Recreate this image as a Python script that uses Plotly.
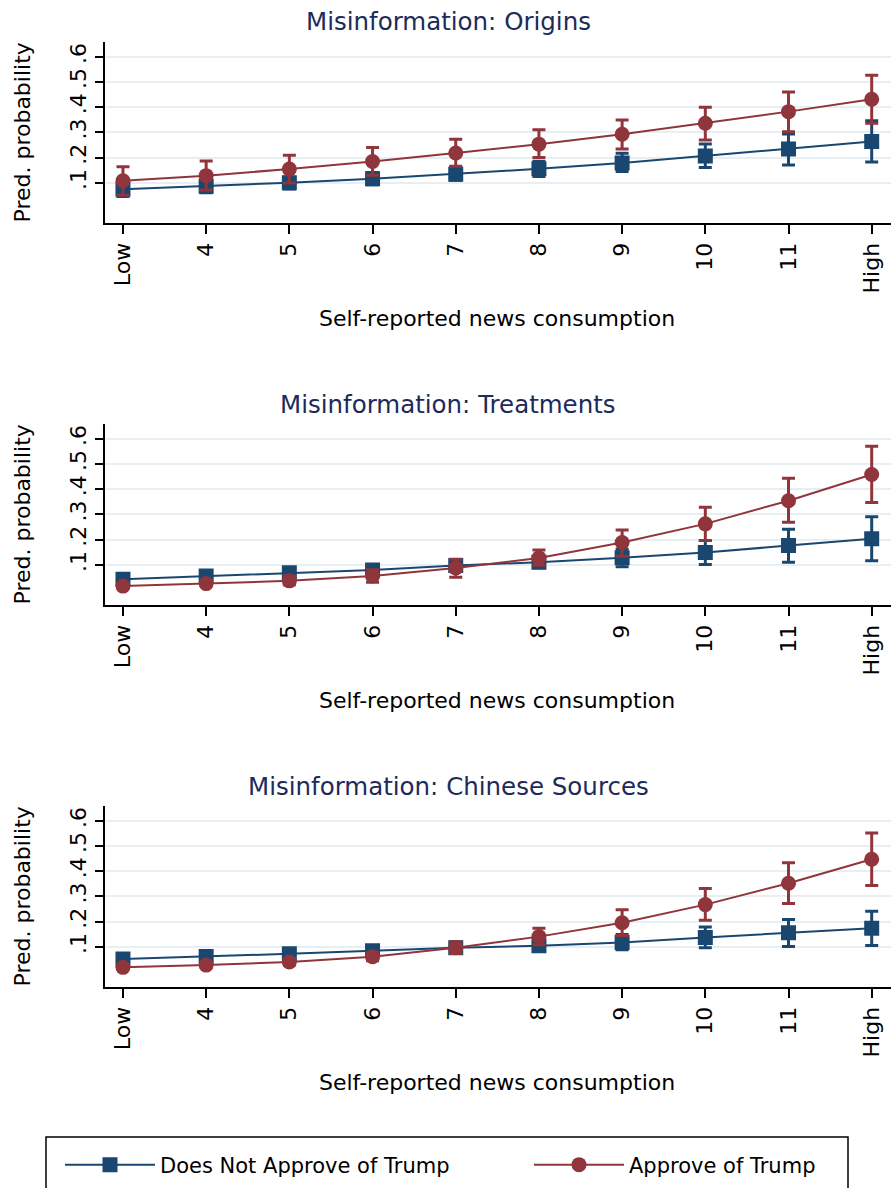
import plotly.graph_objects as go

# ---------------- data ----------------
levels = [3, 4, 5, 6, 7, 8, 9, 10, 11, 12]
level_labels = ["Low", "4", "5", "6", "7", "8", "9", "10", "11", "High"]
ytick_vals = [0.1, 0.2, 0.3, 0.4, 0.5, 0.6]
ytick_text = [".1", ".2", ".3", ".4", ".5", ".6"]

panel_titles = ["Misinformation: Origins", "Misinformation: Treatments",
                "Misinformation: Chinese Sources"]
series_names = ["Does Not Approve of Trump", "Approve of Trump"]

# Origins
orig_no = [0.074, 0.086, 0.100, 0.116, 0.134, 0.155, 0.178, 0.206, 0.234, 0.263]
orig_no_lo = [0.045, 0.060, 0.075, 0.092, 0.110, 0.125, 0.144, 0.160, 0.170, 0.182]
orig_no_hi = [0.110, 0.108, 0.122, 0.140, 0.160, 0.185, 0.217, 0.254, 0.293, 0.346]
orig_yes = [0.108, 0.128, 0.154, 0.184, 0.218, 0.253, 0.292, 0.336, 0.382, 0.431]
orig_yes_lo = [0.050, 0.071, 0.099, 0.130, 0.165, 0.200, 0.234, 0.269, 0.302, 0.336]
orig_yes_hi = [0.163, 0.186, 0.209, 0.240, 0.272, 0.310, 0.349, 0.399, 0.460, 0.526]

# Treatments
treat_no = [0.042, 0.055, 0.068, 0.079, 0.097, 0.110, 0.128, 0.148, 0.176, 0.203]
treat_no_lo = [0.030, 0.042, 0.055, 0.064, 0.078, 0.088, 0.092, 0.101, 0.110, 0.116]
treat_no_hi = [0.055, 0.067, 0.080, 0.094, 0.115, 0.132, 0.161, 0.196, 0.241, 0.290]
treat_yes = [0.015, 0.025, 0.036, 0.055, 0.087, 0.127, 0.188, 0.262, 0.354, 0.458]
treat_yes_lo = [0.008, 0.015, 0.020, 0.030, 0.050, 0.098, 0.134, 0.196, 0.268, 0.347]
treat_yes_hi = [0.023, 0.035, 0.055, 0.080, 0.122, 0.158, 0.238, 0.328, 0.443, 0.570]

# Chinese sources
chin_no = [0.051, 0.061, 0.072, 0.084, 0.096, 0.104, 0.117, 0.137, 0.155, 0.173]
chin_no_lo = [0.040, 0.050, 0.060, 0.070, 0.080, 0.085, 0.088, 0.096, 0.101, 0.105]
chin_no_hi = [0.062, 0.072, 0.084, 0.098, 0.112, 0.123, 0.148, 0.178, 0.208, 0.241]
chin_yes = [0.018, 0.027, 0.039, 0.060, 0.096, 0.140, 0.195, 0.267, 0.352, 0.447]
chin_yes_lo = [0.010, 0.017, 0.027, 0.044, 0.073, 0.108, 0.144, 0.205, 0.271, 0.343]
chin_yes_hi = [0.026, 0.037, 0.052, 0.077, 0.120, 0.173, 0.247, 0.331, 0.433, 0.551]

panels = [
    (orig_no, orig_no_lo, orig_no_hi, orig_yes, orig_yes_lo, orig_yes_hi),
    (treat_no, treat_no_lo, treat_no_hi, treat_yes, treat_yes_lo, treat_yes_hi),
    (chin_no, chin_no_lo, chin_no_hi, chin_yes, chin_yes_lo, chin_yes_hi),
]

# ---------------- style ----------------
W, H = 891, 1188
FONT = "DejaVu Sans"
BLUE = "#1a476f"
RED = "#90353b"
TITLE_COLOR = "#1c2b5a"
GRID = "#e8eff2"

plot_left = 105
panel_top = [41.7, 423.7, 805.7]
panel_h = 181.6
panel_step = 382


def py(px):
    return 1 - px / H


def pxx(px):
    return px / W


fig = go.Figure()

for i, (no, no_lo, no_hi, yes, yes_lo, yes_hi) in enumerate(panels):
    xa = "x" if i == 0 else f"x{i+1}"
    ya = "y" if i == 0 else f"y{i+1}"
    for k, (name, est, lo, hi, color, sym) in enumerate([
        (series_names[0], no, no_lo, no_hi, BLUE, "square"),
        (series_names[1], yes, yes_lo, yes_hi, RED, "circle"),
    ]):
        fig.add_trace(go.Scatter(
            x=levels, y=est, xaxis=xa, yaxis=ya, name=name,
            mode="lines+markers",
            line=dict(color=color, width=2),
            marker=dict(symbol=sym, size=15, color=color),
            error_y=dict(type="data", symmetric=False,
                         array=[h - e for h, e in zip(hi, est)],
                         arrayminus=[e - l for e, l in zip(est, lo)],
                         color=color, thickness=3, width=6.5),
            showlegend=(i == 0),
            legend="legend" if k == 0 else "legend2",
        ))

legend_common = dict(
    orientation="h", xanchor="left", y=py(1165), yanchor="middle",
    font=dict(family=FONT, size=21, color="black"),
    itemwidth=90, bgcolor="rgba(0,0,0,0)", borderwidth=0,
)

layout = dict(
    width=W, height=H,
    margin=dict(l=0, r=0, t=0, b=0),
    paper_bgcolor="white", plot_bgcolor="white",
    font=dict(family=FONT, size=22, color="black"),
    showlegend=True,
    legend=dict(x=pxx(60), **legend_common),
    legend2=dict(x=pxx(529), **legend_common),
    annotations=[],
    shapes=[],
)

for i in range(3):
    top = panel_top[i]
    bottom = top + panel_h
    xk = "xaxis" if i == 0 else f"xaxis{i+1}"
    yk = "yaxis" if i == 0 else f"yaxis{i+1}"
    ya = "y" if i == 0 else f"y{i+1}"
    xa = "x" if i == 0 else f"x{i+1}"
    layout[xk] = dict(
        domain=[pxx(plot_left), 1], anchor=ya, range=[2.784, 12.232],
        tickmode="array", tickvals=levels, ticktext=level_labels,
        tickangle=-90, ticks="outside", ticklen=9, tickwidth=1.5,
        tickcolor="black", showline=True, linecolor="black", linewidth=1.5,
        showgrid=False, zeroline=False, automargin=False,
        tickfont=dict(family=FONT, size=22, color="black"),
    )
    layout[yk] = dict(
        domain=[py(bottom), py(top)], anchor=xa, range=[-0.0611, 0.6595],
        tickmode="array", tickvals=ytick_vals, ticktext=ytick_text,
        tickangle=-90, ticks="outside", ticklen=8, tickwidth=1.5,
        tickcolor="black", showline=True, linecolor="black", linewidth=1.5,
        showgrid=True, gridcolor=GRID, gridwidth=2, zeroline=False,
        automargin=False,
        tickfont=dict(family=FONT, size=22, color="black"),
    )
    off = i * panel_step
    layout["annotations"].append(dict(
        text=panel_titles[i], xref="paper", yref="paper",
        x=0.503, y=py(22 + off), xanchor="center", yanchor="middle",
        showarrow=False, font=dict(family=FONT, size=24.5, color=TITLE_COLOR)))
    layout["annotations"].append(dict(
        text="Self-reported news consumption", xref="paper", yref="paper",
        x=pxx(497), y=py(318 + off), xanchor="center", yanchor="middle",
        showarrow=False, font=dict(family=FONT, size=22, color="black")))
    layout["annotations"].append(dict(
        text="Pred. probability", xref="paper", yref="paper",
        x=pxx(22), y=py(top + panel_h / 2), xanchor="center", yanchor="middle",
        textangle=-90, showarrow=False,
        font=dict(family=FONT, size=22, color="black")))

layout["shapes"].append(dict(
    type="rect", xref="paper", yref="paper",
    x0=pxx(46), x1=pxx(848), y0=py(1137), y1=py(1200),
    line=dict(color="black", width=1.5), fillcolor="rgba(0,0,0,0)"))

fig.update_layout(**layout)
fig.write_html("out.html")
